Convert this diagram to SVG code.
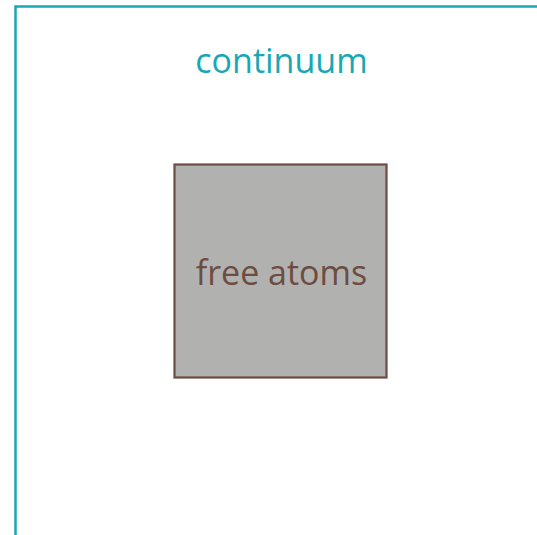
<svg xmlns="http://www.w3.org/2000/svg" width="537" height="535" viewBox="0 0 537 535">
<style>
.frame{fill:none;stroke:#17a8b5;stroke-width:2.5}
.box{fill:#b1b2b0;stroke:#6d4c41;stroke-width:2.2}
.lbl{font-family:"Open Sans","Noto Sans",sans-serif;text-anchor:middle}
</style>
<rect width="537" height="535" fill="#ffffff"/>
<g id="continuum">
<rect class="frame" x="15.5" y="6.5" width="540" height="540"/>
<text class="lbl" x="281.5" y="73" font-size="34" fill="#17a8b5">continuum</text>
</g>
<g id="free-atoms">
<rect class="box" x="174.5" y="164.5" width="212" height="213"/>
<text class="lbl" x="281.5" y="285" font-size="34" fill="#6d4c41">free atoms</text>
</g>
<g id="connectors"/>
</svg>
